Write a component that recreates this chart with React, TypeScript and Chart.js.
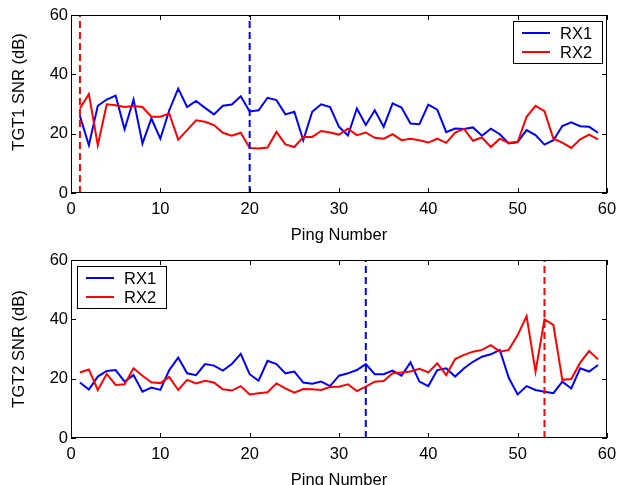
import React, { useEffect, useRef } from "react";
import { Chart, registerables } from "chart.js";

Chart.register(...registerables);

const pings = [
  1, 2, 3, 4, 5, 6, 7, 8, 9, 10, 11, 12, 13, 14, 15, 16, 17, 18, 19, 20,
  21, 22, 23, 24, 25, 26, 27, 28, 29, 30, 31, 32, 33, 34, 35, 36, 37, 38, 39, 40,
  41, 42, 43, 44, 45, 46, 47, 48, 49, 50, 51, 52, 53, 54, 55, 56, 57, 58, 59,
];

const tgt1Rx1 = [
  25.9, 16.1, 29.4, 31.5, 32.8, 21.5, 31.5, 16.7, 25.1, 18.3,
  27.9, 35.2, 29.0, 31.0, 28.7, 26.5, 29.4, 29.8, 32.6, 27.5,
  27.9, 32.1, 31.3, 26.5, 27.4, 17.8, 27.4, 29.9, 29.0, 22.3,
  19.4, 28.5, 22.9, 27.9, 22.3, 30.2, 28.8, 23.4, 23.2, 29.8,
  28.1, 20.5, 21.7, 21.6, 22.1, 19.3, 21.7, 19.8, 16.7, 17.2,
  21.2, 19.5, 16.3, 17.8, 22.6, 23.8, 22.5, 22.3, 20.3,
];
const tgt1Rx2 = [
  28.5, 33.4, 16.1, 29.9, 29.6, 29.0, 29.3, 29.0, 25.7, 25.7,
  26.8, 18.0, 21.2, 24.5, 24.0, 22.9, 20.3, 19.3, 20.3, 15.2,
  15.0, 15.3, 20.6, 16.4, 15.5, 18.9, 18.9, 20.9, 20.4, 19.7,
  21.7, 19.5, 20.4, 18.6, 18.3, 19.8, 17.8, 18.3, 17.8, 17.0,
  18.3, 16.9, 20.4, 21.6, 17.6, 18.7, 15.5, 18.3, 16.9, 17.2,
  25.7, 29.4, 27.6, 18.3, 17.0, 15.2, 18.1, 19.7, 18.1,
];
const tgt2Rx1 = [
  18.7, 16.3, 20.7, 22.6, 22.9, 19.0, 21.2, 15.6, 17.0, 16.2,
  22.9, 27.1, 21.8, 21.2, 24.9, 24.4, 22.7, 24.9, 28.4, 21.5,
  19.3, 26.0, 24.9, 21.8, 22.4, 18.7, 18.3, 19.0, 17.5, 21.0,
  21.8, 22.9, 24.9, 21.5, 21.5, 22.7, 21.0, 25.5, 19.0, 17.5,
  22.9, 23.5, 20.7, 23.5, 25.7, 27.4, 28.2, 29.7, 20.3, 14.7,
  17.5, 16.2, 15.6, 15.1, 19.0, 16.7, 23.5, 22.4, 24.6,
];
const tgt2Rx2 = [
  22.1, 23.1, 16.2, 21.6, 17.9, 18.1, 23.5, 21.0, 18.8, 18.5,
  20.6, 16.2, 19.6, 18.4, 19.3, 18.7, 16.4, 16.0, 17.5, 14.7,
  15.1, 15.4, 18.4, 16.7, 15.3, 16.5, 16.4, 16.2, 17.2, 17.3,
  18.1, 15.8, 17.3, 19.0, 19.2, 21.8, 22.1, 22.4, 23.3, 22.1,
  25.2, 21.2, 26.6, 28.0, 29.1, 29.7, 31.3, 29.1, 29.7, 34.7,
  41.1, 22.4, 40.0, 38.1, 19.6, 19.9, 25.4, 29.3, 26.5,
];

// Vertical dashed marker pings
const tgt1Rx1Mark = 20;
const tgt1Rx2Mark = 1;
const tgt2Rx1Mark = 33;
const tgt2Rx2Mark = 53;

const xTicks = [0, 10, 20, 30, 40, 50, 60];
const yTicks = [0, 20, 40, 60];
const seriesNames = ["RX1", "RX2"];
const xTitle = "Ping Number";
const yTitles = ["TGT1 SNR (dB)", "TGT2 SNR (dB)"];

const BLUE = "#0000ff";
const RED = "#ff0000";
const FONT = '"Liberation Sans", Arial, Helvetica, sans-serif';
const FS = 16.5;

const framePlugin = {
  id: "matlabFrame",
  afterDatasetsDraw(chart: any, _args: any, opts: any) {
    const { ctx, chartArea: a, scales } = chart;
    const x = scales.x;
    const y = scales.y;
    ctx.save();
    ctx.strokeStyle = "#000";
    ctx.lineWidth = 1;
    ctx.beginPath();
    const tl = 5;
    for (const v of xTicks) {
      const px = Math.round(x.getPixelForValue(v)) + 0.5;
      ctx.moveTo(px, a.bottom);
      ctx.lineTo(px, a.bottom - tl);
      ctx.moveTo(px, a.top);
      ctx.lineTo(px, a.top + tl);
    }
    for (const v of yTicks) {
      const py = Math.round(y.getPixelForValue(v)) + 0.5;
      ctx.moveTo(a.left, py);
      ctx.lineTo(a.left + tl, py);
      ctx.moveTo(a.right, py);
      ctx.lineTo(a.right - tl, py);
    }
    ctx.stroke();
    ctx.strokeRect(Math.round(a.left) + 0.5, Math.round(a.top) + 0.5, Math.round(a.width) - 1, Math.round(a.height) - 1);

    // y title (custom placement)
    ctx.save();
    ctx.fillStyle = "#000";
    ctx.font = `${FS}px ${FONT}`;
    ctx.textAlign = "center";
    ctx.textBaseline = "middle";
    ctx.translate(19, (a.top + a.bottom) / 2 + opts.titleShift);
    ctx.rotate(-Math.PI / 2);
    ctx.fillText(opts.yTitle, 0, 0);
    ctx.restore();

    // legend
    const bw = 89;
    const bh = 42;
    const bx = opts.side === "right" ? Math.round(a.right - 5 - bw) : Math.round(a.left + 6);
    const by = Math.round(a.top + 6);
    ctx.fillStyle = "#fff";
    ctx.fillRect(bx, by, bw, bh);
    ctx.strokeStyle = "#000";
    ctx.lineWidth = 1;
    ctx.strokeRect(bx + 0.5, by + 0.5, bw, bh);
    const colors = [BLUE, RED];
    const rows = [by + 12, by + 31];
    ctx.font = `${FS}px ${FONT}`;
    ctx.textBaseline = "middle";
    ctx.textAlign = "left";
    for (let i = 0; i < 2; i++) {
      ctx.strokeStyle = colors[i];
      ctx.lineWidth = 2;
      ctx.beginPath();
      ctx.moveTo(bx + 9, rows[i]);
      ctx.lineTo(bx + 37, rows[i]);
      ctx.stroke();
      ctx.fillStyle = "#000";
      ctx.fillText(seriesNames[i], bx + 47, rows[i] + 1);
    }
    ctx.restore();
  },
};

function makeConfig(rx1: number[], rx2: number[], m1: number, m2: number, yTitle: string, side: string, titleShift: number) {
  const line = (vals: number[], color: string, label: string) => ({
    label,
    data: vals.map((v, i) => ({ x: pings[i], y: v })),
    borderColor: color,
    backgroundColor: color,
    borderWidth: 2,
    pointRadius: 0,
    tension: 0,
    fill: false,
  });
  const mark = (m: number, color: string) => ({
    label: "marker",
    data: [
      { x: m, y: yTicks[0] },
      { x: m, y: yTicks[yTicks.length - 1] },
    ],
    borderColor: color,
    borderWidth: 2,
    borderDash: [7, 4],
    pointRadius: 0,
    fill: false,
  });
  return {
    type: "line",
    data: {
      datasets: [mark(m1, BLUE), mark(m2, RED), line(rx2, RED, seriesNames[1]), line(rx1, BLUE, seriesNames[0])],
    },
    options: {
      animation: false,
      responsive: false,
      devicePixelRatio: 1,
      layout: { padding: { top: 15, right: 11, left: 0, bottom: 0 } },
      plugins: {
        legend: { display: false },
        tooltip: { enabled: false },
        matlabFrame: { side, yTitle, titleShift },
      },
      scales: {
        x: {
          type: "linear",
          min: xTicks[0],
          max: xTicks[xTicks.length - 1],
          grid: { display: false, drawTicks: false },
          border: { display: false },
          afterBuildTicks: (s: any) => {
            s.ticks = xTicks.map((v) => ({ value: v }));
          },
          afterFit: (s: any) => {
            s.height = 52;
            s.paddingLeft = 0;
            s.paddingRight = 0;
          },
          ticks: { color: "#000", font: { size: FS, family: FONT }, padding: 7, maxRotation: 0, autoSkip: false },
          title: { display: true, text: xTitle, color: "#000", font: { size: FS, family: FONT }, padding: { top: 0, bottom: 0 } },
        },
        y: {
          type: "linear",
          min: yTicks[0],
          max: yTicks[yTicks.length - 1],
          grid: { display: false, drawTicks: false },
          border: { display: false },
          afterBuildTicks: (s: any) => {
            s.ticks = yTicks.map((v) => ({ value: v }));
          },
          afterFit: (s: any) => {
            s.width = 71;
            s.paddingTop = 0;
            s.paddingBottom = 0;
          },
          ticks: { color: "#000", font: { size: FS, family: FONT }, padding: 3 },
          title: { display: false },
        },
      },
    },
    plugins: [framePlugin],
  };
}

function Plot(props: { rx1: number[]; rx2: number[]; m1: number; m2: number; yTitle: string; side: string; top: number; titleShift: number }) {
  const ref = useRef<HTMLCanvasElement>(null);
  useEffect(() => {
    if (!ref.current) return;
    const chart = new Chart(
      ref.current,
      makeConfig(props.rx1, props.rx2, props.m1, props.m2, props.yTitle, props.side, props.titleShift) as any
    );
    return () => chart.destroy();
  }, []);
  return (
    <canvas
      ref={ref}
      width={618}
      height={245}
      style={{ position: "absolute", left: 0, top: props.top, width: 618, height: 245, display: "block" }}
    />
  );
}

export default function App() {
  return (
    <div style={{ position: "fixed", left: 0, top: 0, width: 618, height: 485, overflow: "hidden", background: "#fff" }}>
      <Plot rx1={tgt1Rx1} rx2={tgt1Rx2} m1={tgt1Rx1Mark} m2={tgt1Rx2Mark} yTitle={yTitles[0]} side="right" top={0} titleShift={-12} />
      <Plot rx1={tgt2Rx1} rx2={tgt2Rx2} m1={tgt2Rx1Mark} m2={tgt2Rx2Mark} yTitle={yTitles[1]} side="left" top={245} titleShift={0} />
    </div>
  );
}
